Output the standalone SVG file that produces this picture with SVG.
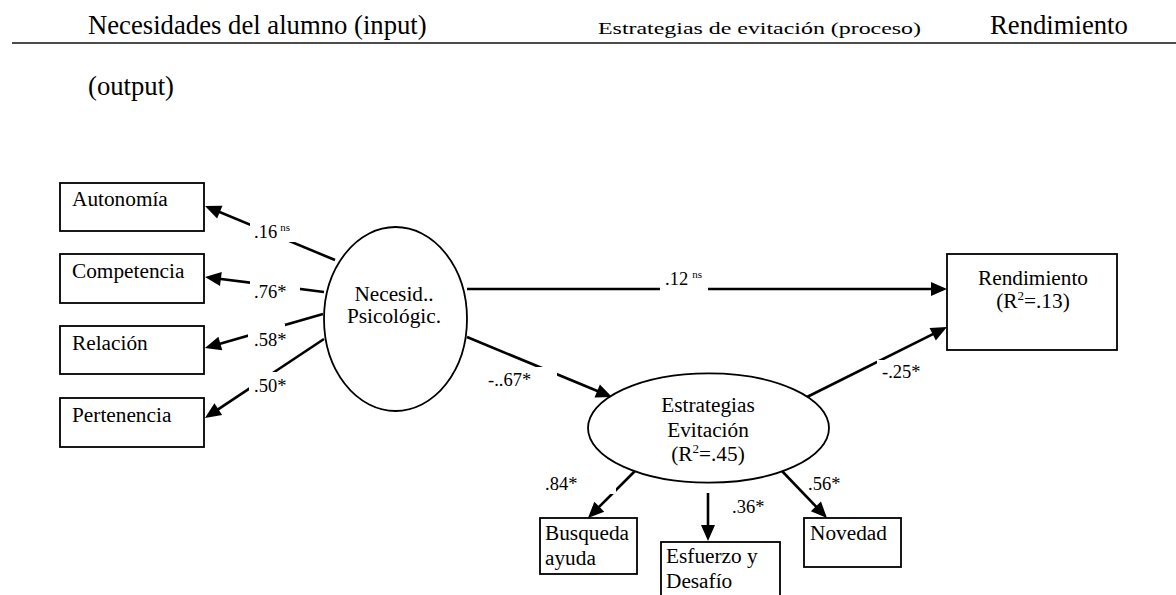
<svg xmlns="http://www.w3.org/2000/svg" width="1176" height="595" viewBox="0 0 1176 595" font-family="'Liberation Serif', 'Times New Roman', Times, serif">
<style>
text{font-family:"Liberation Serif","Times New Roman",Times,serif;fill:#000}
.t{font-size:21.3px}
.h{font-size:26.7px}
.lb{font-size:18.5px}
.sup{font-size:11px}
.box{fill:#fff;stroke:#000;stroke-width:1.8}
.ell{fill:#fff;stroke:#000;stroke-width:1.8}
.ln{fill:none;stroke:#000;stroke-width:2.6;marker-end:url(#ah)}
.bg{fill:#fff}
.c{text-anchor:middle}
</style>
<defs>
<marker id="ah" markerUnits="userSpaceOnUse" markerWidth="18" markerHeight="16" refX="12" refY="7" orient="auto" viewBox="0 0 18 16" overflow="visible">
<path d="M0,0 L16,7 L0,14 z" fill="#000"/>
</marker>
</defs>
<rect width="1176" height="595" fill="#fff"/>
<g id="header">
<text class="h" x="88" y="34">Necesidades del alumno (input)</text>
<text x="598" y="34" font-size="17" textLength="323" lengthAdjust="spacingAndGlyphs">Estrategias de evitación (proceso)</text>
<text class="h" x="990" y="34">Rendimiento</text>
<line x1="12" y1="43" x2="1176" y2="43" stroke="#111" stroke-width="1.6"/>
<text class="h" x="88" y="95">(output)</text>
</g>
<g id="connectors">
<line class="ln" x1="335" y1="260" x2="208.7" y2="207.5"/>
<line class="ln" x1="324" y1="292" x2="209" y2="277.5"/>
<line class="ln" x1="323" y1="314" x2="208.8" y2="346.9"/>
<line class="ln" x1="324" y1="339" x2="208.3" y2="415.8"/>
<line class="ln" x1="467" y1="289" x2="943" y2="289"/>
<line class="ln" x1="467" y1="337" x2="608.3" y2="395.5"/>
<line class="ln" x1="807" y1="397" x2="943.4" y2="328.8"/>
<line class="ln" x1="636" y1="470" x2="590.8" y2="515.2"/>
<line class="ln" x1="708" y1="493" x2="708" y2="537"/>
<line class="ln" x1="781" y1="470" x2="824.2" y2="515.1"/>
<rect class="bg" x="250" y="222" width="46" height="20"/>
<text class="lb" x="254" y="238">.16<tspan class="sup" dx="3" dy="-7">ns</tspan></text>
<rect class="bg" x="250" y="281" width="50" height="20"/>
<text class="lb" x="254" y="298">.76*</text>
<rect class="bg" x="248" y="324" width="37" height="25"/>
<text class="lb" x="254" y="346">.58*</text>
<rect class="bg" x="249" y="372" width="46" height="24"/>
<text class="lb" x="254" y="392">.50*</text>
<rect class="bg" x="660" y="266" width="48" height="25.5"/>
<text class="lb" x="665" y="285">.12<tspan class="sup" dx="4" dy="-7">ns</tspan></text>
<rect class="bg" x="485" y="367" width="72" height="26"/>
<text class="lb" x="488" y="386">-..67*</text>
<rect class="bg" x="877" y="360" width="48" height="23"/>
<text class="lb" x="882" y="378">-.25*</text>
<rect class="bg" x="541" y="472" width="75" height="22"/>
<text class="lb" x="545" y="490">.84*</text>
<text class="lb" x="732" y="513">.36*</text>
<text class="lb" x="808" y="490">.56*</text>
</g>
<g id="autonomia">
<rect class="box" x="60" y="183" width="144" height="48"/>
<text class="t" x="72" y="206">Autonomía</text>
</g>
<g id="competencia">
<rect class="box" x="60" y="254" width="144" height="49"/>
<text class="t" x="72" y="278">Competencia</text>
</g>
<g id="relacion">
<rect class="box" x="60" y="326" width="144" height="48"/>
<text class="t" x="72" y="350">Relación</text>
</g>
<g id="pertenencia">
<rect class="box" x="60" y="398" width="144" height="49"/>
<text class="t" x="72" y="422">Pertenencia</text>
</g>
<g id="necesidades">
<ellipse class="ell" cx="395.5" cy="319" rx="71.5" ry="92"/>
<text class="t c" x="394" y="301">Necesid..</text>
<text class="t c" x="394" y="323">Psicológic.</text>
</g>
<g id="rendimiento">
<rect class="box" x="947" y="254" width="170" height="96"/>
<text class="t c" x="1033" y="285">Rendimiento</text>
<text class="t c" x="1033" y="308">(R<tspan font-size="13" dy="-8">2</tspan><tspan dy="8">=.13)</tspan></text>
</g>
<g id="estrategias">
<ellipse class="ell" cx="708.5" cy="428" rx="120.5" ry="54.7"/>
<text class="t c" x="708" y="412">Estrategias</text>
<text class="t c" x="708" y="437">Evitación</text>
<text class="t c" x="708" y="461">(R<tspan font-size="13" dy="-8">2</tspan><tspan dy="8">=.45)</tspan></text>
</g>
<g id="busqueda">
<rect class="box" x="540" y="518" width="97" height="56"/>
<text class="t" x="545" y="540">Busqueda</text>
<text class="t" x="545" y="565">ayuda</text>
</g>
<g id="esfuerzo">
<rect class="box" x="661" y="542" width="119" height="80"/>
<text class="t" x="666" y="563">Esfuerzo y</text>
<text class="t" x="666" y="588">Desafío</text>
</g>
<g id="novedad">
<rect class="box" x="804" y="518" width="97" height="49"/>
<text class="t" x="810" y="540">Novedad</text>
</g>
</svg>
